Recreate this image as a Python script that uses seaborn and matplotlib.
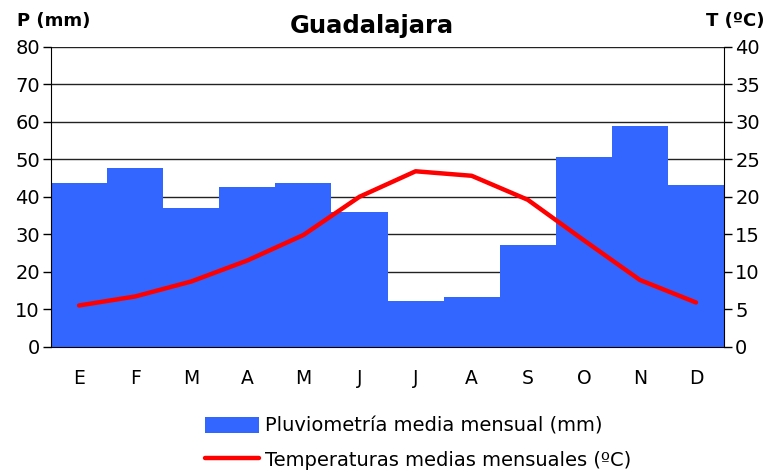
import pandas as pd
import matplotlib
matplotlib.use("Agg")
import matplotlib.pyplot as plt
import seaborn as sns
from matplotlib.patches import Patch
from matplotlib.lines import Line2D

# Datos climáticos de Guadalajara
meses = ["E", "F", "M", "A", "M", "J", "J", "A", "S", "O", "N", "D"]
precipitacion = [43.6, 47.8, 36.9, 42.7, 43.8, 35.9, 12.2, 13.3, 27.0, 50.5, 58.9, 43.1]
temperatura = [5.5, 6.7, 8.7, 11.5, 14.9, 20.0, 23.4, 22.8, 19.6, 14.2, 8.9, 5.9]

df = pd.DataFrame({
    "pos": list(range(len(meses))),
    "mes": meses,
    "P": precipitacion,
    "T": temperatura,
})

sns.set_style("white")
plt.rcParams["font.family"] = ["DejaVu Sans"]
plt.rcParams["text.color"] = "black"
plt.rcParams["xtick.color"] = "black"
plt.rcParams["ytick.color"] = "black"
plt.rcParams["axes.labelcolor"] = "black"

azul = "#3366FF"
rojo = "#FF0000"

fig = plt.figure(figsize=(7.67, 4.73), dpi=100)
ax = fig.add_axes([0.0665, 0.267, 0.8775, 0.634])

sns.barplot(data=df, x="pos", y="P", color=azul, saturation=1, width=1.0,
            edgecolor="none", linewidth=0, ax=ax, zorder=2)
ax.set_ylim(0, 80)
ax.set_xlim(-0.5, 11.5)
ax.set_yticks(range(0, 81, 10))
ax.grid(axis="y", color="#222222", linewidth=1, zorder=0)
ax.set_axisbelow(True)
ax.set_xticks(range(12))
ax.set_xticklabels(meses, fontsize=13.5)
ax.set_xticks([i - 0.5 for i in range(13)], minor=True)
ax.tick_params(axis="x", which="major", length=0, pad=16)
ax.tick_params(axis="x", which="minor", length=5, width=1, color="black")
ax.tick_params(axis="y", length=6, width=1, color="black", labelsize=14, pad=2)
ax.set_xlabel("")
ax.set_ylabel("")
for s in ["top", "right"]:
    ax.spines[s].set_visible(False)
ax.spines["left"].set_color("black")
ax.spines["bottom"].set_color("black")

ax2 = ax.twinx()
sns.lineplot(data=df, x="pos", y="T", color=rojo, linewidth=3.2, ax=ax2,
             solid_capstyle="round", zorder=3)
ax2.set_ylim(0, 40)
ax2.set_yticks(range(0, 41, 5))
ax2.tick_params(axis="y", length=6, width=1, color="black", labelsize=14, pad=2)
ax2.set_ylabel("")
ax2.set_xlim(-0.5, 11.5)
for s in ["top", "left", "bottom"]:
    ax2.spines[s].set_visible(False)
ax2.spines["right"].set_color("black")

fig.text(0.485, 0.945, "Guadalajara", fontsize=17.5, fontweight="bold",
         ha="center", va="center")
fig.text(0.022, 0.955, "P (mm)", fontsize=13, fontweight="bold",
         ha="left", va="center")
fig.text(0.997, 0.955, "T (ºC)", fontsize=13, fontweight="bold",
         ha="right", va="center")

handles = [
    Patch(facecolor=azul, edgecolor="none", label="Pluviometría media mensual (mm)"),
    Line2D([0], [0], color=rojo, linewidth=3.2, label="Temperaturas medias mensuales (ºC)"),
]
fig.legend(handles=handles, loc="upper center", bbox_to_anchor=(0.545, 0.135),
           frameon=False, fontsize=14, handlelength=2.8, handleheight=0.9,
           handletextpad=0.3, labelspacing=0.75, borderaxespad=0)

fig.savefig("out.png", dpi=100)
